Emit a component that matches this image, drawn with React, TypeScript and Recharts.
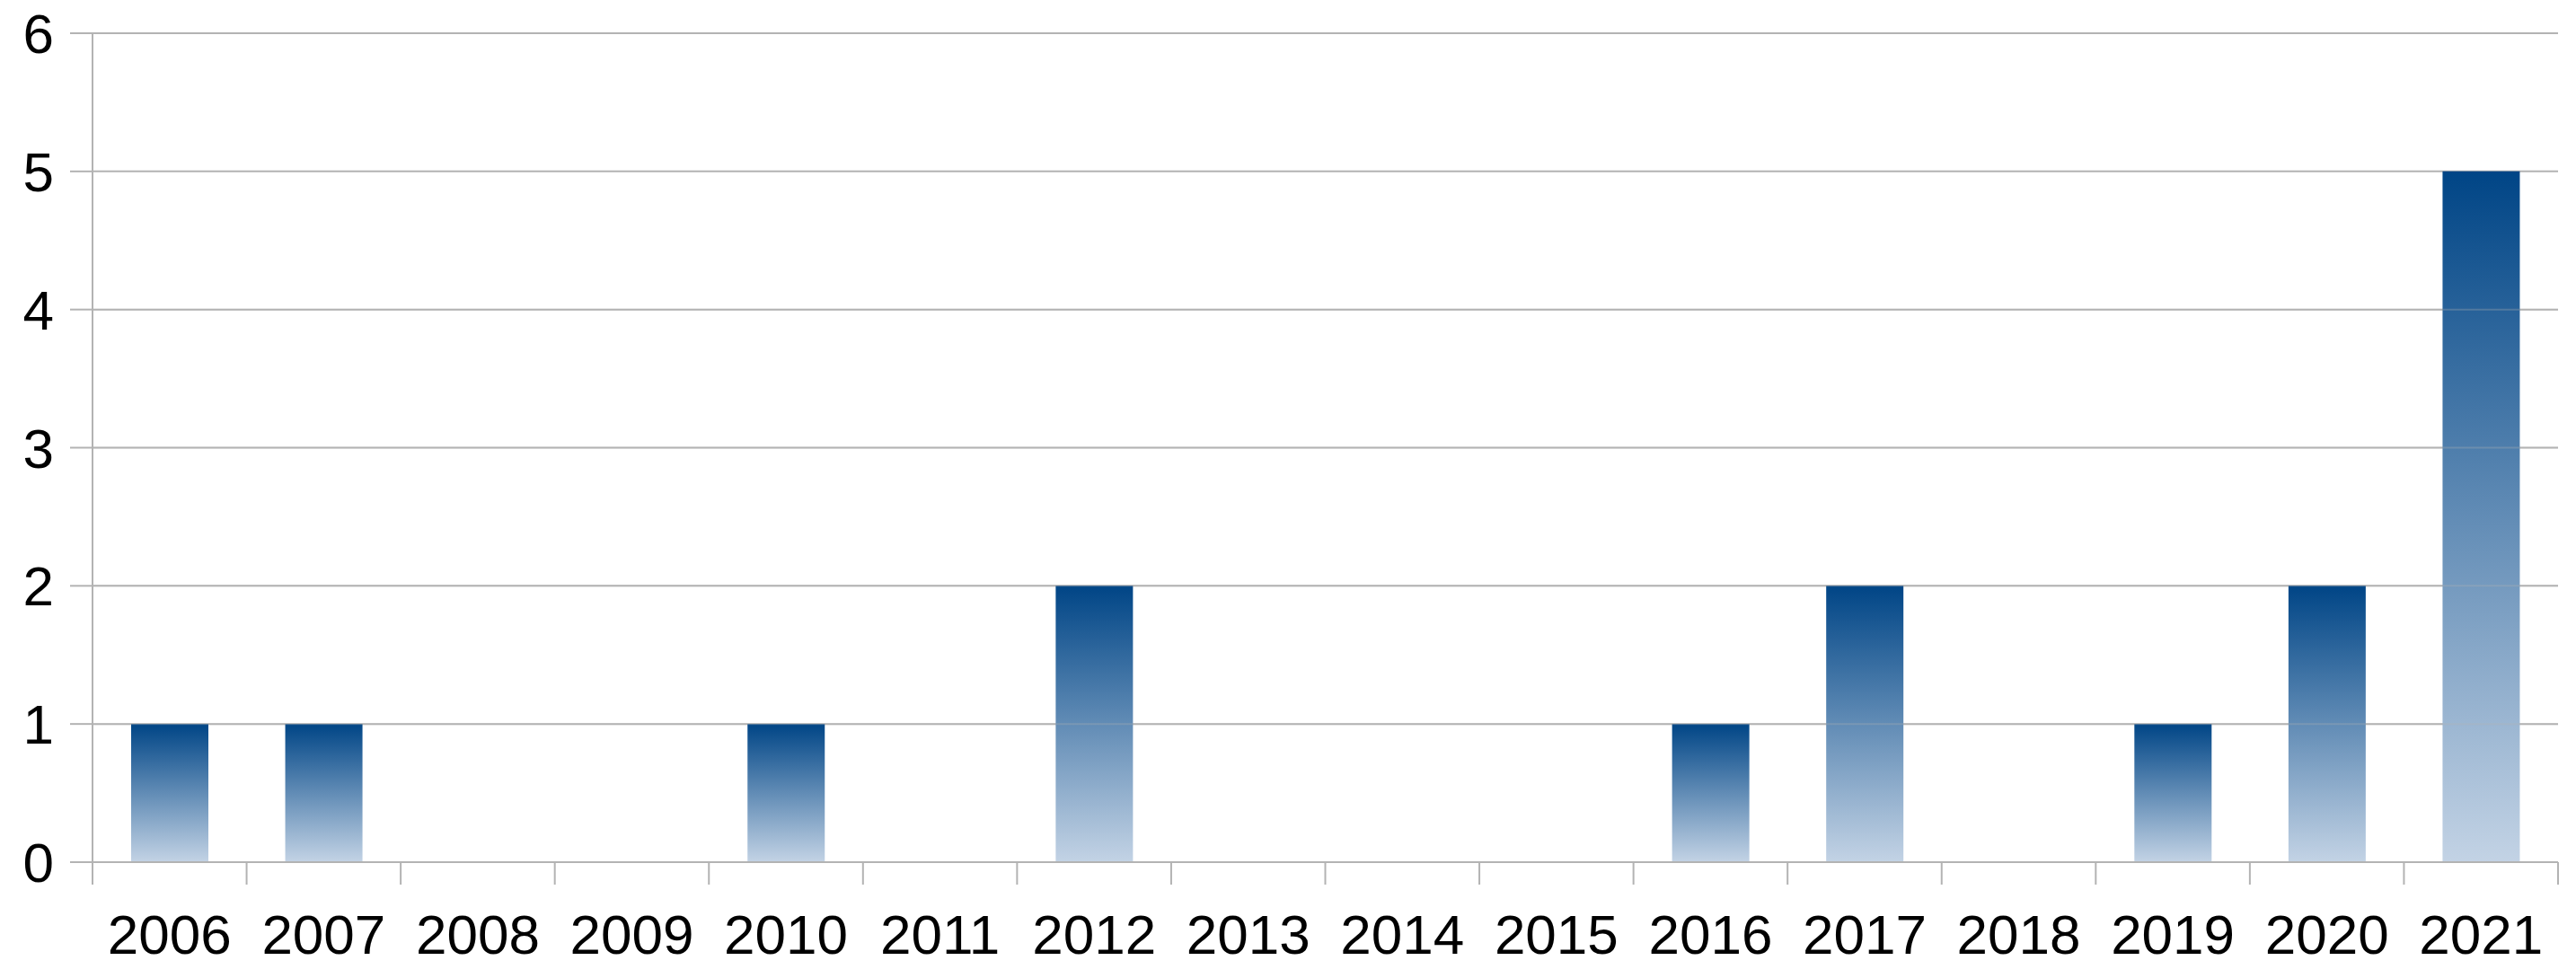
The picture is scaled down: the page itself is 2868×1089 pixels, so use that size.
import React from 'react';
import { BarChart, Bar, XAxis, YAxis, CartesianGrid, ReferenceLine } from 'recharts';

const years = ['2006','2007','2008','2009','2010','2011','2012','2013','2014','2015','2016','2017','2018','2019','2020','2021'];
const counts = [1, 1, 0, 0, 1, 0, 2, 0, 0, 0, 1, 2, 0, 1, 2, 5];
const yTicks = [0, 1, 2, 3, 4, 5, 6];

const data = years.map((y, i) => ({ year: y, count: counts[i] }));

const W = 2868;
const H = 1089;
const M = { top: 37, right: 20, bottom: 0, left: 0 };
const Y_W = 103;
const X_H = 129;
const FONT = '"Liberation Sans", Arial, sans-serif';
const GRID = '#b3b3b3';
const BAND = (W - M.left - Y_W - M.right) / years.length;

const XTick = (props: any) => {
  const { x, y, payload, index } = props;
  const half = BAND / 2;
  const left = x - half;
  const right = x + half;
  return (
    <g>
      <line x1={left} y1={y} x2={left} y2={y + 25} stroke={GRID} strokeWidth={2} />
      {index === years.length - 1 && (
        <line x1={right} y1={y} x2={right} y2={y + 25} stroke={GRID} strokeWidth={2} />
      )}
      <text x={x} y={y + 102} textAnchor="middle" fontSize={62} fontFamily={FONT} fill="#000">
        {payload.value}
      </text>
    </g>
  );
};

export default function App() {
  return (
    <div style={{ position: 'absolute', left: 0, top: 0, background: '#fff' }}>
      <BarChart width={W} height={H} data={data} margin={M}>
        <defs>
          <linearGradient id="barGrad" x1="0" y1="0" x2="0" y2="1">
            <stop offset="0%" stopColor="#004586" />
            <stop offset="100%" stopColor="#c3d3e5" />
          </linearGradient>
        </defs>
        <CartesianGrid stroke={GRID} strokeWidth={2} vertical={false} />
        <XAxis
          dataKey="year"
          height={X_H}
          tick={<XTick />}
          tickLine={false}
          tickSize={0}
          tickMargin={0}
          axisLine={{ stroke: GRID, strokeWidth: 2 }}
          interval={0}
        />
        <YAxis
          width={Y_W}
          domain={[0, 6]}
          ticks={yTicks}
          tickSize={25}
          tickMargin={18}
          tickLine={{ stroke: GRID, strokeWidth: 2 }}
          axisLine={{ stroke: GRID, strokeWidth: 2 }}
          tick={{ fontSize: 62, fontFamily: FONT, fill: '#000' }}
        />
        <Bar dataKey="count" barSize={86} fill="url(#barGrad)" isAnimationActive={false} />
        <ReferenceLine y={1} stroke={GRID} strokeWidth={2} strokeOpacity={0.3} />
        <ReferenceLine y={2} stroke={GRID} strokeWidth={2} strokeOpacity={0.3} />
        <ReferenceLine y={3} stroke={GRID} strokeWidth={2} strokeOpacity={0.3} />
        <ReferenceLine y={4} stroke={GRID} strokeWidth={2} strokeOpacity={0.3} />
      </BarChart>
    </div>
  );
}
